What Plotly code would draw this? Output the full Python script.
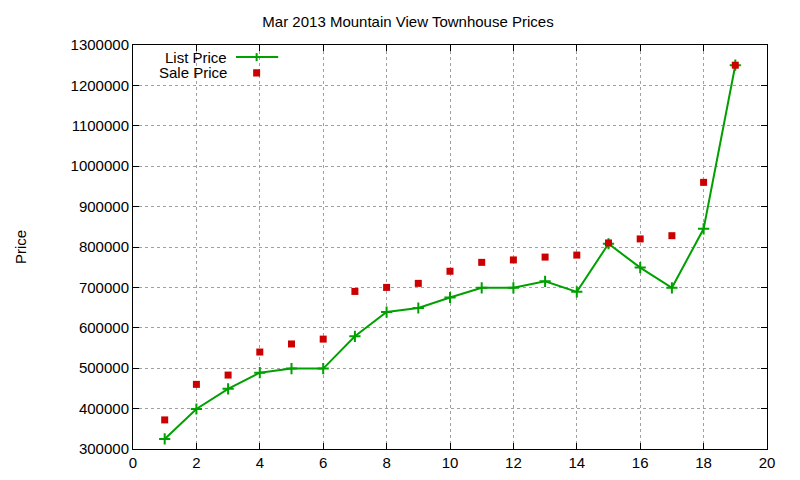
import plotly.graph_objects as go

x = list(range(1, 20))
list_price = [325000, 399000, 449000, 489000, 499000, 499000, 579000, 639000, 649000, 675000,
              699000, 699000, 715000, 689000, 808000, 749000, 699000, 845000, 1250000]
sale_price = [372000, 460000, 483000, 540000, 560000, 572000, 690000, 700000, 710000, 740000,
              762000, 768000, 775000, 780000, 810000, 820000, 828000, 960000, 1250000]

fig = go.Figure()
fig.add_trace(go.Scatter(x=x, y=list_price, mode="lines+markers", name="List Price",
                         line=dict(color="#00a000", width=2),
                         marker=dict(symbol="cross-thin", size=8, line=dict(color="#00a000", width=2))))
fig.add_trace(go.Scatter(x=x, y=sale_price, mode="markers", name="Sale Price",
                         marker=dict(symbol="square", size=7, color="#cc0000")))

font = dict(family="Liberation Sans, Arial", size=15, color="black")
ax = dict(showline=True, mirror="ticks", linecolor="black", linewidth=1, ticks="inside",
          ticklen=6, tickcolor="black", showgrid=True, gridcolor="#a0a0a0", griddash="dot",
          gridwidth=1, zeroline=False, tickfont=font)
fig.update_layout(
    width=800, height=480, showlegend=False, plot_bgcolor="white", paper_bgcolor="white",
    margin=dict(l=113, r=41, t=37, b=39),
    title=dict(text="Mar 2013 Mountain View Townhouse Prices", x=0.5, xanchor="center",
               y=0.972, yanchor="middle", font=font),
    xaxis=dict(range=[0, 20], tickvals=list(range(0, 21, 2)), **ax),
    yaxis=dict(range=[300000, 1300000], tickvals=list(range(300000, 1300001, 100000)),
               title=dict(text="Price", font=font, standoff=40), **ax),
)
fig.update_yaxes(tickformat="d")

fig.add_annotation(xref="paper", yref="paper", x=0.152, y=0.970, text="List Price", showarrow=False,
                   xanchor="right", yanchor="middle", font=font)
fig.add_annotation(xref="paper", yref="paper", x=0.152, y=0.931, text="Sale Price", showarrow=False,
                   xanchor="right", yanchor="middle", font=font)
fig.add_shape(type="line", xref="paper", yref="paper", x0=0.1625, x1=0.229, y0=0.970, y1=0.970,
              line=dict(color="#00a000", width=2))
fig.add_shape(type="line", xref="paper", yref="paper", x0=0.195, x1=0.195, y0=0.960, y1=0.980,
              line=dict(color="#00a000", width=2))
fig.add_shape(type="rect", xref="paper", yref="paper", x0=0.1895, x1=0.2005, y0=0.922, y1=0.940,
              fillcolor="#cc0000", line=dict(width=0))

fig.write_html("out.html")
